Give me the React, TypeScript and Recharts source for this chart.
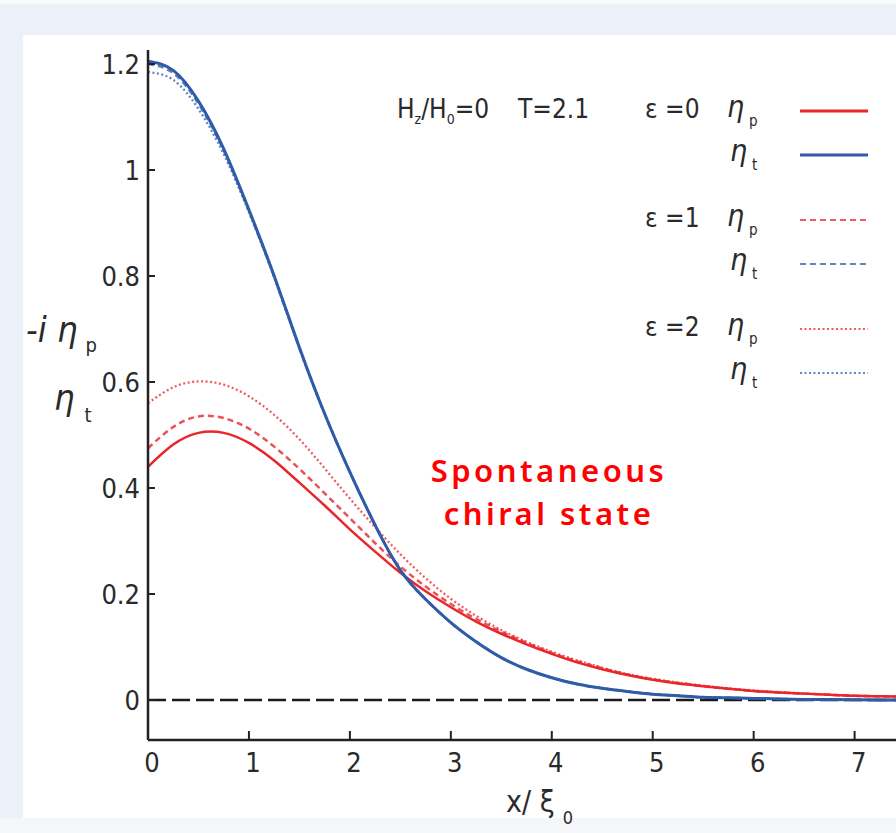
import { LineChart, Line, XAxis, YAxis, ReferenceLine } from 'recharts';

const xs = [0, 0.25, 0.5, 0.75, 1, 1.25, 1.5, 1.75, 2, 2.25, 2.5, 2.75, 3, 3.25, 3.5, 3.75, 4, 4.25, 4.5, 4.75, 5, 5.25, 5.5, 5.75, 6, 6.25, 6.5, 6.75, 7, 7.25, 7.5];

// eps = 0
const etaP0 = [0.44, 0.482, 0.504, 0.504, 0.485, 0.452, 0.41, 0.367, 0.322, 0.28, 0.24, 0.205, 0.175, 0.148, 0.125, 0.105, 0.087, 0.071, 0.058, 0.047, 0.038, 0.031, 0.026, 0.021, 0.017, 0.014, 0.012, 0.01, 0.008, 0.007, 0.006];
const etaT0 = [1.205, 1.188, 1.13, 1.04, 0.925, 0.8, 0.665, 0.54, 0.43, 0.33, 0.245, 0.19, 0.146, 0.11, 0.08, 0.058, 0.042, 0.03, 0.022, 0.016, 0.011, 0.008, 0.005, 0.004, 0.003, 0.002, 0.001, 0.001, 0.0005, 0, 0];
// eps = 1
const etaP1 = [0.475, 0.515, 0.535, 0.532, 0.512, 0.478, 0.436, 0.39, 0.343, 0.296, 0.252, 0.214, 0.181, 0.153, 0.129, 0.108, 0.089, 0.073, 0.06, 0.048, 0.039, 0.032, 0.026, 0.021, 0.017, 0.014, 0.012, 0.01, 0.008, 0.007, 0.006];
const etaT1 = [1.2, 1.183, 1.125, 1.037, 0.923, 0.799, 0.664, 0.54, 0.43, 0.33, 0.245, 0.19, 0.146, 0.11, 0.08, 0.058, 0.042, 0.03, 0.022, 0.016, 0.011, 0.008, 0.005, 0.004, 0.003, 0.002, 0.001, 0.001, 0.0005, 0, 0];
// eps = 2
const etaP2 = [0.56, 0.59, 0.601, 0.595, 0.573, 0.538, 0.492, 0.437, 0.38, 0.326, 0.275, 0.23, 0.191, 0.159, 0.132, 0.11, 0.091, 0.075, 0.061, 0.049, 0.04, 0.033, 0.027, 0.022, 0.018, 0.015, 0.012, 0.01, 0.008, 0.007, 0.006];
const etaT2 = [1.185, 1.17, 1.115, 1.03, 0.92, 0.797, 0.663, 0.54, 0.43, 0.33, 0.245, 0.19, 0.146, 0.11, 0.08, 0.058, 0.042, 0.03, 0.022, 0.016, 0.011, 0.008, 0.005, 0.004, 0.003, 0.002, 0.001, 0.001, 0.0005, 0, 0];

const xTicks = [0, 1, 2, 3, 4, 5, 6, 7];
const yTicks = [0, 0.2, 0.4, 0.6, 0.8, 1, 1.2];

const data = xs.map((x, i) => ({
  x,
  p0: etaP0[i], t0: etaT0[i],
  p1: etaP1[i], t1: etaT1[i],
  p2: etaP2[i], t2: etaT2[i],
}));

const RED = '#e8262b';
const BLUE = '#2f5ca8';
const NARROW = '"Liberation Sans Narrow", "DejaVu Sans Condensed", "Liberation Sans", sans-serif';
const INK = '#2a2a2a';

const legendRows = [
  { eps: 'ε =0', sub: 'p', color: RED, dash: undefined, y: 111 },
  { eps: '', sub: 't', color: BLUE, dash: undefined, y: 155 },
  { eps: 'ε =1', sub: 'p', color: RED, dash: '6 4', y: 220 },
  { eps: '', sub: 't', color: BLUE, dash: '6 4', y: 264 },
  { eps: 'ε =2', sub: 'p', color: RED, dash: '2 2.5', y: 329 },
  { eps: '', sub: 't', color: BLUE, dash: '2 2.5', y: 373 },
];

const fmtY = (v: number) => (v === 0 ? '0' : v === 1 ? '1' : String(v));

const XTick = (props: any) => {
  const { x, y, payload } = props;
  const v = payload.value;
  return (
    <g>
      {v !== 0 && <line x1={x} y1={y} x2={x} y2={y - 9} stroke="#222" strokeWidth={2} />}
      <text x={x + 4} y={y + 32} textAnchor="middle" fontFamily={NARROW} fontSize={27} fill={INK}>{v}</text>
    </g>
  );
};

const TopTick = (props: any) => {
  const { x, y, payload } = props;
  if (payload.value === 0) return <g />;
  return <line x1={x} y1={y} x2={x} y2={y + 11} stroke="#222" strokeWidth={2} />;
};

const YTick = (props: any) => {
  const { x, y, payload } = props;
  const v = payload.value;
  return (
    <g>
      <line x1={x} y1={y} x2={x + 7} y2={y} stroke="#222" strokeWidth={2} />
      <text x={x - 8} y={y + 10} textAnchor="end" fontFamily={NARROW} fontSize={27} fill={INK}>{fmtY(v)}</text>
    </g>
  );
};

export default function App() {
  return (
    <div style={{ position: 'absolute', left: 0, top: 0, width: 896, height: 833, background: '#ecf0f8', overflow: 'hidden' }}>
      <div style={{ position: 'absolute', left: 0, top: 0, width: 896, height: 4, background: '#fafbfd' }} />
      <div style={{ position: 'absolute', left: 0, top: 818, width: 896, height: 15, background: '#f4f6fa' }} />
      <div style={{ position: 'absolute', left: 23, top: 35, width: 873, height: 783, background: '#ffffff' }} />
      <div style={{ position: 'absolute', left: 0, top: 0 }}>
        <LineChart width={896} height={833} data={data} margin={{ top: 50, right: 0, bottom: 33, left: 0 }}>
          <XAxis
            dataKey="x"
            type="number"
            domain={[0, 7.41]}
            allowDataOverflow
            ticks={xTicks}
            height={60}
            tickSize={0}
            tickMargin={0}
            tickLine={false}
            axisLine={{ stroke: '#222', strokeWidth: 2.5 }}
            tick={<XTick />}
          />
          <XAxis
            xAxisId="top"
            dataKey="x"
            type="number"
            orientation="top"
            domain={[0, 7.41]}
            allowDataOverflow
            ticks={xTicks}
            height={0}
            tickSize={0}
            tickMargin={0}
            tickLine={false}
            axisLine={{ stroke: '#222', strokeWidth: 2.5 }}
            tick={<TopTick />}
          />
          <YAxis
            type="number"
            domain={[-0.0755, 1.2264]}
            allowDataOverflow
            ticks={yTicks}
            width={148}
            tickSize={0}
            tickMargin={0}
            tickLine={false}
            axisLine={{ stroke: '#222', strokeWidth: 2.5 }}
            tick={<YTick />}
          />
          <ReferenceLine y={0} stroke="#1a1a1a" strokeWidth={2.5} strokeDasharray="18 6" />
          <Line dataKey="p2" type="natural" stroke={RED} strokeOpacity={0.75} strokeWidth={2.3} strokeDasharray="2 2.5" dot={false} isAnimationActive={false} />
          <Line dataKey="p1" type="natural" stroke={RED} strokeOpacity={0.8} strokeWidth={2.5} strokeDasharray="6 4" dot={false} isAnimationActive={false} />
          <Line dataKey="p0" type="natural" stroke={RED} strokeWidth={2.5} dot={false} isAnimationActive={false} />
          <Line dataKey="t2" type="natural" stroke={BLUE} strokeOpacity={0.75} strokeWidth={2.3} strokeDasharray="2 2.5" dot={false} isAnimationActive={false} />
          <Line dataKey="t1" type="natural" stroke={BLUE} strokeOpacity={0.8} strokeWidth={2.5} strokeDasharray="6 4" dot={false} isAnimationActive={false} />
          <Line dataKey="t0" type="natural" stroke={BLUE} strokeWidth={3} dot={false} isAnimationActive={false} />
        </LineChart>
      </div>
      <svg width={896} height={833} style={{ position: 'absolute', left: 0, top: 0, pointerEvents: 'none' }}>
        {/* y axis label */}
        <text x={26} y={342} fontFamily={NARROW} fontStyle="italic" fontSize={36} fill={INK}>
          -i η<tspan fontSize={20} fontStyle="normal" dx={8} dy={10}>p</tspan>
        </text>
        <text x={54} y={410} fontFamily={NARROW} fontStyle="italic" fontSize={36} fill={INK}>
          η<tspan fontSize={20} fontStyle="normal" dx={10} dy={12}>t</tspan>
        </text>
        {/* x axis label */}
        <text x={506} y={812} fontFamily={NARROW} fontSize={30} fill={INK}>
          x/ ξ<tspan fontSize={18} dx={8} dy={12}>0</tspan>
        </text>
        {/* parameters */}
        <text x={397} y={118} fontFamily={NARROW} fontSize={26} fill={INK}>
          H<tspan fontSize={14} dy={6}>z</tspan><tspan dy={-6}>/H</tspan><tspan fontSize={14} dy={6}>0</tspan><tspan dy={-6}>=0</tspan>
        </text>
        <text x={518} y={118} fontFamily={NARROW} fontSize={26} fill={INK}>T=2.1</text>
        {/* legend */}
        {legendRows.map((r, i) => (
          <g key={i}>
            {r.eps && (
              <text x={645} y={r.y + 7} fontFamily={NARROW} fontSize={26} fill={INK}>{r.eps}</text>
            )}
            <text x={r.sub === 'p' ? 727 : 730} y={r.y + 6} fontFamily={NARROW} fontStyle="italic" fontSize={30} fill={INK}>
              η<tspan fontSize={15} fontStyle="normal" dx={5} dy={9}>{r.sub}</tspan>
            </text>
            <line x1={800} y1={r.y} x2={868} y2={r.y} stroke={r.color} strokeWidth={r.dash ? 2.2 : 3} strokeOpacity={r.dash ? 0.75 : 1} strokeDasharray={r.dash} />
          </g>
        ))}
        {/* annotation */}
        <text textAnchor="middle" fontFamily='"Noto Sans", sans-serif' fontWeight={600} fontSize={31} letterSpacing={3.5} fill="#ff0000">
          <tspan x={549} y={482}>Spontaneous</tspan>
          <tspan x={549} y={525}>chiral state</tspan>
        </text>
      </svg>
    </div>
  );
}
